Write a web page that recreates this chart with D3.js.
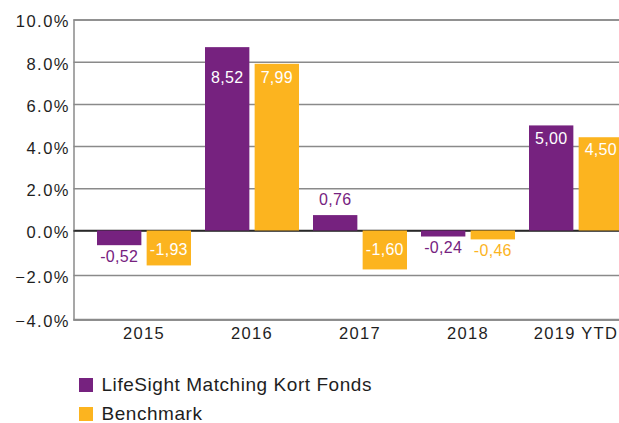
<!DOCTYPE html>
<html>
<head>
<meta charset="utf-8">
<script src="https://cdn.jsdelivr.net/npm/d3@7"></script>
<style>
  html, body { margin: 0; padding: 0; background: #fff; }
  svg { display: block; }
  text { font-family: "Liberation Sans", Arial, Helvetica, sans-serif; }
</style>
</head>
<body>
<svg id="chart" width="619" height="423"></svg>
<script>
// ---- data ----
const categories = ["2015", "2016", "2017", "2018", "2019 YTD"];
const seriesNames = ["LifeSight Matching Kort Fonds", "Benchmark"];
const fundValues = [-0.66, 8.69, 0.73, -0.27, 4.98];
const benchValues = [-1.57, 7.90, -1.75, -0.40, 4.42];
const fundLabels = ["-0,52", "8,52", "0,76", "-0,24", "5,00"];
const benchLabels = ["-1,93", "7,99", "-1,60", "-0,46", "4,50"];
const yTicks = [-4, -2, 0, 2, 4, 6, 8, 10];
const colors = ["#76227f", "#fcb41f"];

const svg = d3.select("#chart");

// scales
const y = d3.scaleLinear().domain([-4, 0, 10]).range([319.5, 230.5, 19.5]);
const x = d3.scaleBand().domain(categories).range([88, 628]).paddingInner(0).paddingOuter(0);
const xs = d3.scaleBand().domain(seriesNames).range([9, 103]).paddingInner(10 / 94).paddingOuter(0);

const left = 73.5, right = 619;

// grid + y axis labels
const yAxis = d3.axisLeft(y)
  .tickValues(yTicks)
  .tickSize(-(right - left))
  .tickPadding(6)
  .tickFormat(d => d3.format(".1f")(d) + "%");
const gy = svg.append("g").attr("transform", `translate(${left},0)`).call(yAxis);
gy.select(".domain").attr("stroke", "#8a8a8a").attr("stroke-width", 1.5);
gy.selectAll(".tick line").attr("stroke", d => d === 0 ? "#2a2a2a" : "#8a8a8a").attr("stroke-width", 1.5);
gy.selectAll(".tick text")
  .attr("fill", "#1e1e1e")
  .attr("font-size", "16.5px")
  .style("letter-spacing", "1.5px")
  .attr("x", -3.5)
  .attr("dy", "0.45em");

// bars
const data = categories.map((c, i) => ({
  cat: c,
  vals: [
    { s: 0, v: fundValues[i], label: fundLabels[i] },
    { s: 1, v: benchValues[i], label: benchLabels[i] }
  ]
}));

const groups = svg.append("g").selectAll("g")
  .data(data).join("g")
  .attr("transform", d => `translate(${x(d.cat)},0)`);

groups.selectAll("rect")
  .data(d => d.vals).join("rect")
  .attr("x", d => xs(seriesNames[d.s]))
  .attr("width", xs.bandwidth())
  .attr("y", d => Math.min(y(d.v), y(0)))
  .attr("height", d => Math.abs(y(d.v) - y(0)))
  .attr("fill", d => colors[d.s]);

// zero line behind bars
svg.append("line")
  .attr("x1", left).attr("x2", right)
  .attr("y1", y(0)).attr("y2", y(0))
  .attr("stroke", "#2a2a2a").attr("stroke-width", 1.5)
  .lower();

groups.selectAll("text.val")
  .data(d => d.vals).join("text")
  .attr("class", "val")
  .attr("text-anchor", "middle")
  .attr("font-size", "16px")
  .style("letter-spacing", "0.3px")
  .attr("dy", "0.36em")
  .attr("x", d => xs(seriesNames[d.s]) + xs.bandwidth() / 2)
  .attr("y", d => {
    const inside = Math.abs(d.v) >= 1;
    if (inside) return d.v > 0 ? Math.max(y(d.v) + 12.5, 77.5) : y(0) + 18.5;
    return d.v > 0 ? y(d.v) - 15.5 : y(d.v) + 11;
  })
  .attr("fill", d => Math.abs(d.v) >= 1 ? "#fff" : colors[d.s])
  .text(d => d.label);

// x axis labels
const xAxis = d3.axisBottom(x).tickSize(0).tickPadding(0);
const gx = svg.append("g").attr("transform", `translate(2,319.5)`).call(xAxis);
gx.select(".domain").remove();
gx.selectAll(".tick text")
  .attr("fill", "#1e1e1e")
  .attr("font-size", "16.5px")
  .style("letter-spacing", "1.3px")
  .attr("y", 19.5)
  .attr("dy", 0);
// bottom line
svg.append("line")
  .attr("x1", left).attr("x2", right)
  .attr("y1", y(-4)).attr("y2", y(-4))
  .attr("stroke", "#8a8a8a").attr("stroke-width", 1.5);

// legend
const legend = svg.append("g").selectAll("g")
  .data(seriesNames).join("g")
  .attr("transform", (d, i) => `translate(79,${378 + i * 29})`);
legend.append("rect")
  .attr("width", 14).attr("height", 14)
  .attr("fill", (d, i) => colors[i]);
legend.append("text")
  .attr("x", 22.5)
  .attr("y", 13)
  .attr("fill", "#1e1e1e")
  .attr("font-size", "19px")
  .style("letter-spacing", "0.55px")
  .text(d => d);
</script>
</body>
</html>
